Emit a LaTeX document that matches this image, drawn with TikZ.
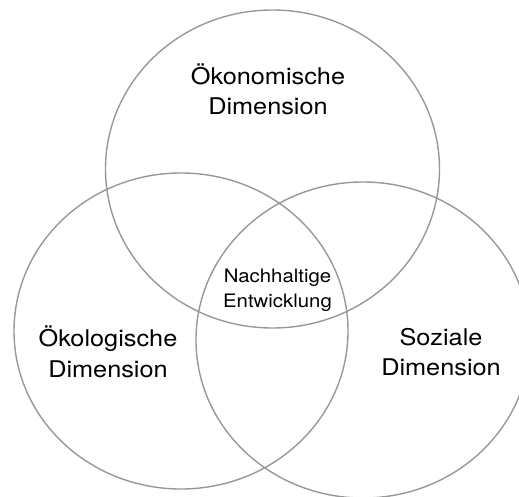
\documentclass[tikz,border=0pt]{standalone}
\usepackage{fontspec}
\setmainfont{TeX Gyre Heros}[FakeStretch=1.1]
\definecolor{ringgray}{RGB}{152,152,152}
\tikzset{
  ring/.style={draw=ringgray, line width=1.4pt},
  dimlabel/.style={align=center, font=\fontsize{23}{30.5}\selectfont, inner sep=0pt},
  corelabel/.style={align=center, font=\fontsize{18.5}{25}\selectfont, inner sep=0pt}
}
\begin{document}
\begin{tikzpicture}[x=1pt, y=-1pt]
		\useasboundingbox (0,0) rectangle (519,497);
		\clip (0,0) rectangle (519,497);
		% die drei Dimensionen
		\draw[ring] (272.5,169) ellipse (167pt and 159pt);
		\draw[ring] (181,331) ellipse (167pt and 158pt);
		\draw[ring] (363,340) ellipse (167pt and 158pt);
		\node[dimlabel] (oekonomie) at (268,89.5) {Ökonomische\\Dimension};
		\node[dimlabel] (oekologie) at (108,352) {Ökologische\\Dimension};
		\node[dimlabel] (soziales) at (441,352) {Soziale\\Dimension};
		\node[corelabel] (kern) at (277.5,290.5) {Nachhaltige\\Entwicklung};
\end{tikzpicture}
\end{document}
